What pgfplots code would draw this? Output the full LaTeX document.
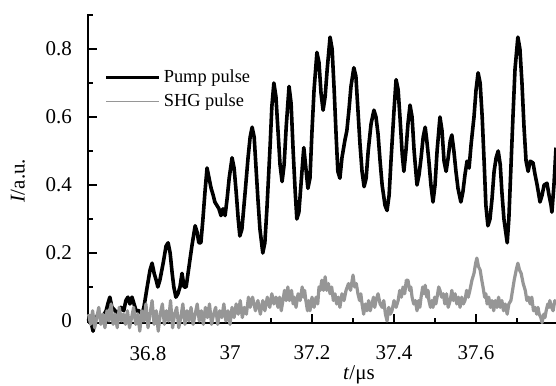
\documentclass[border=0pt]{standalone}
\usepackage{fontspec}
\setmainfont{Liberation Serif}
\usepackage{pgfplots}
\pgfplotsset{compat=1.18}
\definecolor{shg}{RGB}{150,150,150}
\begin{document}
\begin{tikzpicture}
\useasboundingbox (-44pt,-31pt) rectangle (234pt,161.5pt);
\begin{axis}[
  scale only axis, width=234pt, height=154.5pt,
  xmin=36.6537, xmax=37.795, ymin=-0.006, ymax=0.903,
  axis lines*=left,
  axis line style={line width=1.3pt},
  clip=false,
  tick align=inside,
  xtick={36.8,37,37.2,37.4,37.6},
  xticklabels={36.8,37,37.2,37.4,37.6},
  minor xtick={36.7,36.9,37.1,37.3,37.5,37.7},
  ytick={0,0.2,0.4,0.6,0.8},
  yticklabels={0,0.2,0.4,0.6,0.8},
  minor ytick={0.1,0.3,0.5,0.7,0.9},
  major tick length=4.5pt, minor tick length=2.5pt,
  every tick/.style={line width=1.2pt, black},
  ticklabel style={font=\fontsize{10.5}{12}\selectfont},
  xticklabel style={yshift=-8pt},
  yticklabel style={xshift=-4.5pt},
  xlabel={\textit{t}/μs},
  ylabel={\textit{I}/a.u.},
  label style={font=\fontsize{10.5}{12}\selectfont},
  xlabel style={at={(axis description cs:0.579,-0.168)}, anchor=center},
  ylabel style={at={(axis description cs:-0.15,0.46)}, anchor=center},
  legend style={draw=none, fill=none, at={(axis description cs:0.035,0.83)}, anchor=north west,
    font=\fontsize{9.2}{10}\selectfont, row sep=1pt, inner sep=0pt,
    nodes={inner sep=1.5pt}},
  legend cell align=left,
  legend image code/.code={\draw[#1] (0pt,0pt) -- (26.5pt,0pt);},
]
\addlegendimage{black, line width=1.5pt}
\addlegendentry{Pump pulse}
\addlegendimage{shg, line width=0.8pt}
\addlegendentry{SHG pulse}
\addplot[black, line width=1.8pt, line join=round, forget plot] coordinates {
(36.654,0.00) (36.659,0.01) (36.666,-0.03) (36.671,0.00) (36.678,0.02) (36.688,0.01)
(36.698,0.03) (36.702,0.05) (36.707,0.07) (36.712,0.04) (36.720,0.03) (36.727,0.02)
(36.734,0.04) (36.741,0.03) (36.746,0.06) (36.751,0.07) (36.756,0.05) (36.761,0.07)
(36.766,0.05) (36.771,0.03) (36.778,0.03) (36.785,0.02) (36.790,0.04) (36.798,0.10)
(36.805,0.15) (36.810,0.17) (36.815,0.14) (36.820,0.12) (36.824,0.10) (36.829,0.12)
(36.837,0.17) (36.844,0.22) (36.849,0.23) (36.854,0.20) (36.859,0.14) (36.863,0.10)
(36.868,0.07) (36.873,0.08) (36.878,0.10) (36.883,0.14) (36.888,0.10) (36.893,0.10)
(36.900,0.16) (36.907,0.22) (36.915,0.28) (36.920,0.26) (36.924,0.23) (36.929,0.23)
(36.934,0.30) (36.939,0.38) (36.944,0.45) (36.949,0.42) (36.954,0.39) (36.959,0.37)
(36.963,0.35) (36.968,0.34) (36.973,0.33) (36.978,0.31) (36.983,0.33) (36.988,0.31)
(36.993,0.36) (36.998,0.42) (37.005,0.48) (37.010,0.45) (37.015,0.38) (37.020,0.30)
(37.024,0.25) (37.029,0.27) (37.037,0.38) (37.044,0.48) (37.049,0.54) (37.054,0.57)
(37.059,0.54) (37.063,0.46) (37.068,0.36) (37.073,0.27) (37.080,0.20) (37.085,0.23)
(37.090,0.33) (37.098,0.52) (37.102,0.63) (37.107,0.70) (37.112,0.66) (37.117,0.56)
(37.122,0.46) (37.127,0.41) (37.132,0.46) (37.137,0.57) (37.144,0.69) (37.149,0.64)
(37.154,0.50) (37.159,0.38) (37.163,0.30) (37.168,0.32) (37.173,0.40) (37.178,0.48)
(37.180,0.51) (37.185,0.45) (37.190,0.39) (37.195,0.42) (37.200,0.56) (37.205,0.68)
(37.212,0.79) (37.217,0.76) (37.222,0.67) (37.227,0.62) (37.232,0.66) (37.237,0.74)
(37.244,0.835) (37.249,0.80) (37.254,0.68) (37.259,0.54) (37.263,0.44) (37.268,0.42)
(37.273,0.48) (37.280,0.53) (37.285,0.56) (37.290,0.62) (37.295,0.69) (37.302,0.745)
(37.307,0.72) (37.312,0.62) (37.317,0.52) (37.322,0.44) (37.327,0.395) (37.332,0.42)
(37.337,0.50) (37.344,0.58) (37.351,0.62) (37.356,0.60) (37.361,0.55) (37.366,0.47)
(37.371,0.40) (37.378,0.34) (37.383,0.325) (37.388,0.37) (37.393,0.48) (37.400,0.62)
(37.405,0.71) (37.410,0.68) (37.415,0.59) (37.420,0.49) (37.424,0.44) (37.429,0.50)
(37.434,0.58) (37.439,0.635) (37.444,0.60) (37.449,0.50) (37.456,0.40) (37.461,0.43)
(37.466,0.48) (37.471,0.54) (37.476,0.57) (37.480,0.53) (37.485,0.47) (37.490,0.40)
(37.495,0.35) (37.500,0.40) (37.505,0.50) (37.512,0.60) (37.517,0.56) (37.522,0.47)
(37.527,0.44) (37.532,0.48) (37.537,0.53) (37.541,0.547) (37.546,0.50) (37.551,0.44)
(37.556,0.39) (37.563,0.35) (37.568,0.38) (37.573,0.43) (37.578,0.47) (37.583,0.45)
(37.588,0.52) (37.595,0.60) (37.600,0.68) (37.605,0.73) (37.610,0.70) (37.615,0.60)
(37.620,0.46) (37.624,0.34) (37.629,0.28) (37.634,0.30) (37.639,0.36) (37.644,0.44)
(37.649,0.48) (37.654,0.50) (37.659,0.46) (37.663,0.38) (37.668,0.30) (37.676,0.23)
(37.680,0.30) (37.685,0.45) (37.690,0.60) (37.695,0.74) (37.702,0.835) (37.707,0.80)
(37.712,0.70) (37.717,0.57) (37.722,0.47) (37.727,0.44) (37.732,0.47) (37.739,0.465)
(37.744,0.43) (37.749,0.40) (37.756,0.35) (37.761,0.37) (37.766,0.40) (37.773,0.405)
(37.778,0.37) (37.783,0.34) (37.785,0.32) (37.790,0.40) (37.795,0.51)
};
\addplot[shg, line width=1.6pt, line join=round, forget plot] coordinates {
(36.655,0.02) (36.660,-0.01) (36.665,0.03) (36.670,-0.02) (36.675,0.01) (36.680,0.04)
(36.685,-0.01) (36.690,0.02) (36.695,-0.02) (36.700,0.03) (36.705,0.00) (36.710,0.05)
(36.715,-0.01) (36.720,0.02) (36.725,-0.02) (36.730,0.04) (36.735,0.00) (36.740,0.02)
(36.745,-0.01) (36.750,0.03) (36.755,-0.02) (36.760,0.01) (36.765,0.04) (36.770,-0.01)
(36.775,0.02) (36.780,-0.03) (36.785,0.03) (36.790,0.00) (36.795,0.05) (36.800,-0.02)
(36.805,0.02) (36.810,0.06) (36.815,-0.01) (36.820,0.03) (36.825,-0.03) (36.830,0.02)
(36.835,0.05) (36.840,-0.01) (36.845,0.03) (36.850,0.00) (36.855,0.06) (36.860,-0.02)
(36.865,0.02) (36.870,0.04) (36.875,-0.02) (36.880,0.01) (36.885,0.05) (36.890,-0.01)
(36.895,0.03) (36.900,0.00) (36.905,0.04) (36.910,-0.01) (36.915,0.02) (36.920,0.05)
(36.925,0.00) (36.930,0.03) (36.935,-0.01) (36.940,0.04) (36.945,0.01) (36.950,0.05)
(36.955,-0.01) (36.960,0.02) (36.965,0.04) (36.970,-0.01) (36.975,0.03) (36.980,0.01)
(36.985,0.05) (36.990,0.00) (36.995,0.03) (37.000,-0.01) (37.005,0.04) (37.010,0.01)
(37.015,0.05) (37.020,0.02) (37.025,0.06) (37.030,0.01) (37.035,0.04) (37.040,0.02)
(37.045,0.07) (37.049,0.04) (37.055,0.07) (37.062,0.03) (37.068,0.06) (37.074,0.02)
(37.080,0.06) (37.085,0.03) (37.091,0.07) (37.097,0.04) (37.102,0.08) (37.107,0.05)
(37.112,0.07) (37.117,0.04) (37.121,0.07) (37.125,0.03) (37.129,0.06) (37.133,0.09)
(37.137,0.06) (37.141,0.10) (37.145,0.06) (37.150,0.09) (37.154,0.05) (37.157,0.07)
(37.161,0.04) (37.166,0.08) (37.171,0.06) (37.176,0.10) (37.179,0.07) (37.182,0.09)
(37.185,0.06) (37.189,0.03) (37.192,0.06) (37.195,0.03) (37.200,0.07) (37.205,0.04)
(37.210,0.07) (37.214,0.05) (37.217,0.10) (37.220,0.09) (37.224,0.12) (37.228,0.09)
(37.232,0.13) (37.236,0.09) (37.240,0.11) (37.244,0.08) (37.248,0.10) (37.252,0.06)
(37.256,0.08) (37.260,0.05) (37.264,0.07) (37.268,0.04) (37.273,0.08) (37.278,0.06)
(37.283,0.09) (37.289,0.11) (37.294,0.09) (37.300,0.135) (37.304,0.10) (37.308,0.11)
(37.312,0.08) (37.316,0.06) (37.319,0.08) (37.322,0.05) (37.326,0.02) (37.330,0.05)
(37.334,0.03) (37.338,0.06) (37.342,0.03) (37.346,0.05) (37.350,0.07) (37.353,0.04)
(37.356,0.06) (37.361,0.08) (37.366,0.05) (37.371,0.04) (37.375,0.06) (37.379,0.02)
(37.383,0.00) (37.387,0.04) (37.391,0.02) (37.395,0.03) (37.400,0.06) (37.405,0.04)
(37.410,0.06) (37.414,0.09) (37.418,0.07) (37.422,0.10) (37.426,0.08) (37.430,0.12)
(37.434,0.12) (37.438,0.09) (37.441,0.10) (37.444,0.07) (37.448,0.05) (37.452,0.06)
(37.456,0.03) (37.460,0.06) (37.463,0.04) (37.466,0.07) (37.470,0.10) (37.473,0.08)
(37.476,0.105) (37.480,0.07) (37.483,0.09) (37.485,0.06) (37.489,0.04) (37.492,0.06)
(37.495,0.04) (37.499,0.07) (37.502,0.05) (37.505,0.07) (37.509,0.10) (37.512,0.09)
(37.516,0.07) (37.520,0.08) (37.524,0.05) (37.528,0.08) (37.532,0.04) (37.537,0.06)
(37.541,0.09) (37.545,0.06) (37.549,0.08) (37.553,0.05) (37.557,0.07) (37.561,0.04)
(37.565,0.07) (37.569,0.05) (37.573,0.06) (37.577,0.09) (37.581,0.07) (37.585,0.09)
(37.590,0.12) (37.595,0.14) (37.599,0.17) (37.602,0.185) (37.606,0.16) (37.610,0.15)
(37.614,0.12) (37.617,0.10) (37.621,0.07) (37.624,0.08) (37.627,0.05) (37.631,0.07)
(37.635,0.04) (37.639,0.06) (37.643,0.03) (37.647,0.06) (37.651,0.04) (37.655,0.07)
(37.659,0.04) (37.663,0.06) (37.667,0.03) (37.671,0.05) (37.676,0.02) (37.680,0.05)
(37.685,0.06) (37.689,0.09) (37.693,0.12) (37.698,0.15) (37.702,0.17) (37.706,0.15)
(37.710,0.14) (37.715,0.11) (37.720,0.09) (37.724,0.06) (37.728,0.07) (37.732,0.05)
(37.736,0.07) (37.740,0.03) (37.744,0.04) (37.748,0.02) (37.751,0.04) (37.754,0.02)
(37.758,0.01) (37.761,-0.005) (37.765,0.02) (37.768,0.01) (37.771,0.03) (37.775,0.05)
(37.778,0.04) (37.780,0.06) (37.784,0.04) (37.788,0.03) (37.792,0.06) (37.795,0.05)
};
\end{axis}
\end{tikzpicture}
\end{document}
